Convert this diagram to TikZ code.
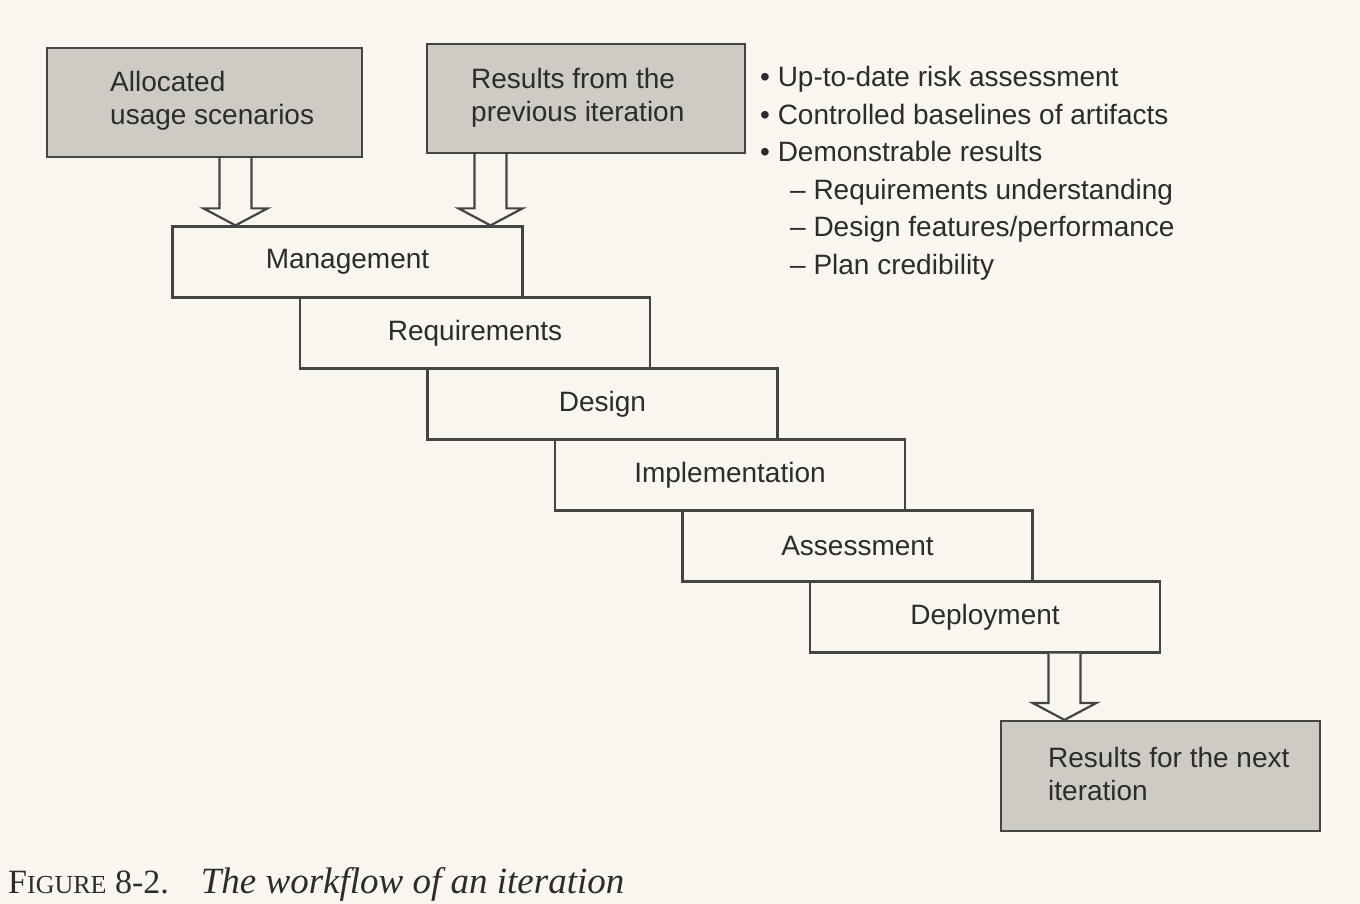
\documentclass[tikz,border=0pt]{standalone}
\usepackage{fontspec}
\setmainfont{Liberation Sans}
\newfontfamily\capfont{Liberation Serif}
\usetikzlibrary{calc}

\definecolor{paper}{HTML}{F8F6EE}
\definecolor{boxgrey}{HTML}{CDCBC4}
\definecolor{ink}{HTML}{2C2C2C}
\definecolor{rule}{HTML}{444444}

% hollow block arrow: #1 source node, #2 target node, #3 x position of the shaft axis
\newcommand\hollowarrow[3]{%
  \draw[blockarrow]
    ($(#3,0 |- #1.south)+(-16,0)$) --
    ($(#3,0 |- #2.north)+(-16,-17)$) --
    ($(#3,0 |- #2.north)+(-32,-17)$) --
    (#3,0 |- #2.north) --
    ($(#3,0 |- #2.north)+(32,-17)$) --
    ($(#3,0 |- #2.north)+(16,-17)$) --
    ($(#3,0 |- #1.south)+(16,0)$);}

\begin{document}
\begin{tikzpicture}[x=1pt,y=-1pt,
  every node/.style={text=ink},
  stage/.style={draw=rule, line width=2.2pt, fill=paper, minimum width=350pt,
    minimum height=71pt, inner sep=0pt, font=\fontsize{28}{34}\selectfont},
  inbox/.style={draw=rule, line width=2.2pt, fill=boxgrey, inner sep=0pt},
  % multi-line texts are placed by the baseline of their last line
  boxtext/.style={inner sep=0pt, anchor=base west, align=left,
    font=\fontsize{28}{33}\selectfont},
  blockarrow/.style={draw=rule, line width=2.2pt, fill=paper, line join=miter}
]
\fill[paper] (0,0) rectangle (1360,904);
\useasboundingbox (0,0) rectangle (1360,904);

% inputs
\node[inbox, minimum width=315pt, minimum height=109pt] (alloc) at (204.5,102.5) {};
\node[boxtext] (alloc-t) at (110,125) {Allocated\\usage scenarios};
\node[inbox, minimum width=318pt, minimum height=109pt] (prev) at (586,98.5) {};
\node[boxtext] (prev-t) at (471,122) {Results from the\\previous iteration};

% results of an iteration
\node[anchor=base west, align=left, inner sep=0pt,
      font=\fontsize{28}{37.5}\selectfont] (results) at (760,274)
  {• Up-to-date risk assessment\\
   • Controlled baselines of artifacts\\
   • Demonstrable results\\
   \hspace*{30pt}– Requirements understanding\\
   \hspace*{30pt}– Design features/performance\\
   \hspace*{30pt}– Plan credibility};

% staircase of activities
\node[stage] (mgmt)   at (347.5,262) {Management};
\node[stage] (req)    at (475,333)   {Requirements};
\node[stage] (design) at (602.5,404) {Design};
\node[stage] (impl)   at (730,475)   {Implementation};
\node[stage] (assess) at (857.5,546) {Assessment};
\node[stage] (deploy) at (985,617)   {Deployment};

% output
\node[inbox, minimum width=319pt, minimum height=110pt] (next) at (1160.5,776) {};
\node[boxtext] (next-t) at (1048,800) {Results for the next\\iteration};

% block arrows
\hollowarrow{alloc}{mgmt}{235.5}
\hollowarrow{prev}{mgmt}{490.5}
\hollowarrow{deploy}{next}{1064.5}

% caption
\node[anchor=base west, inner sep=0pt, font=\capfont\fontsize{34}{40}\selectfont]
  (caption) at (8,893)
  {F{\fontsize{26}{30}\selectfont IGURE} 8-2.\hspace{32pt}{\fontsize{37}{40}\selectfont\itshape The workflow of an iteration}};
\end{tikzpicture}
\end{document}
